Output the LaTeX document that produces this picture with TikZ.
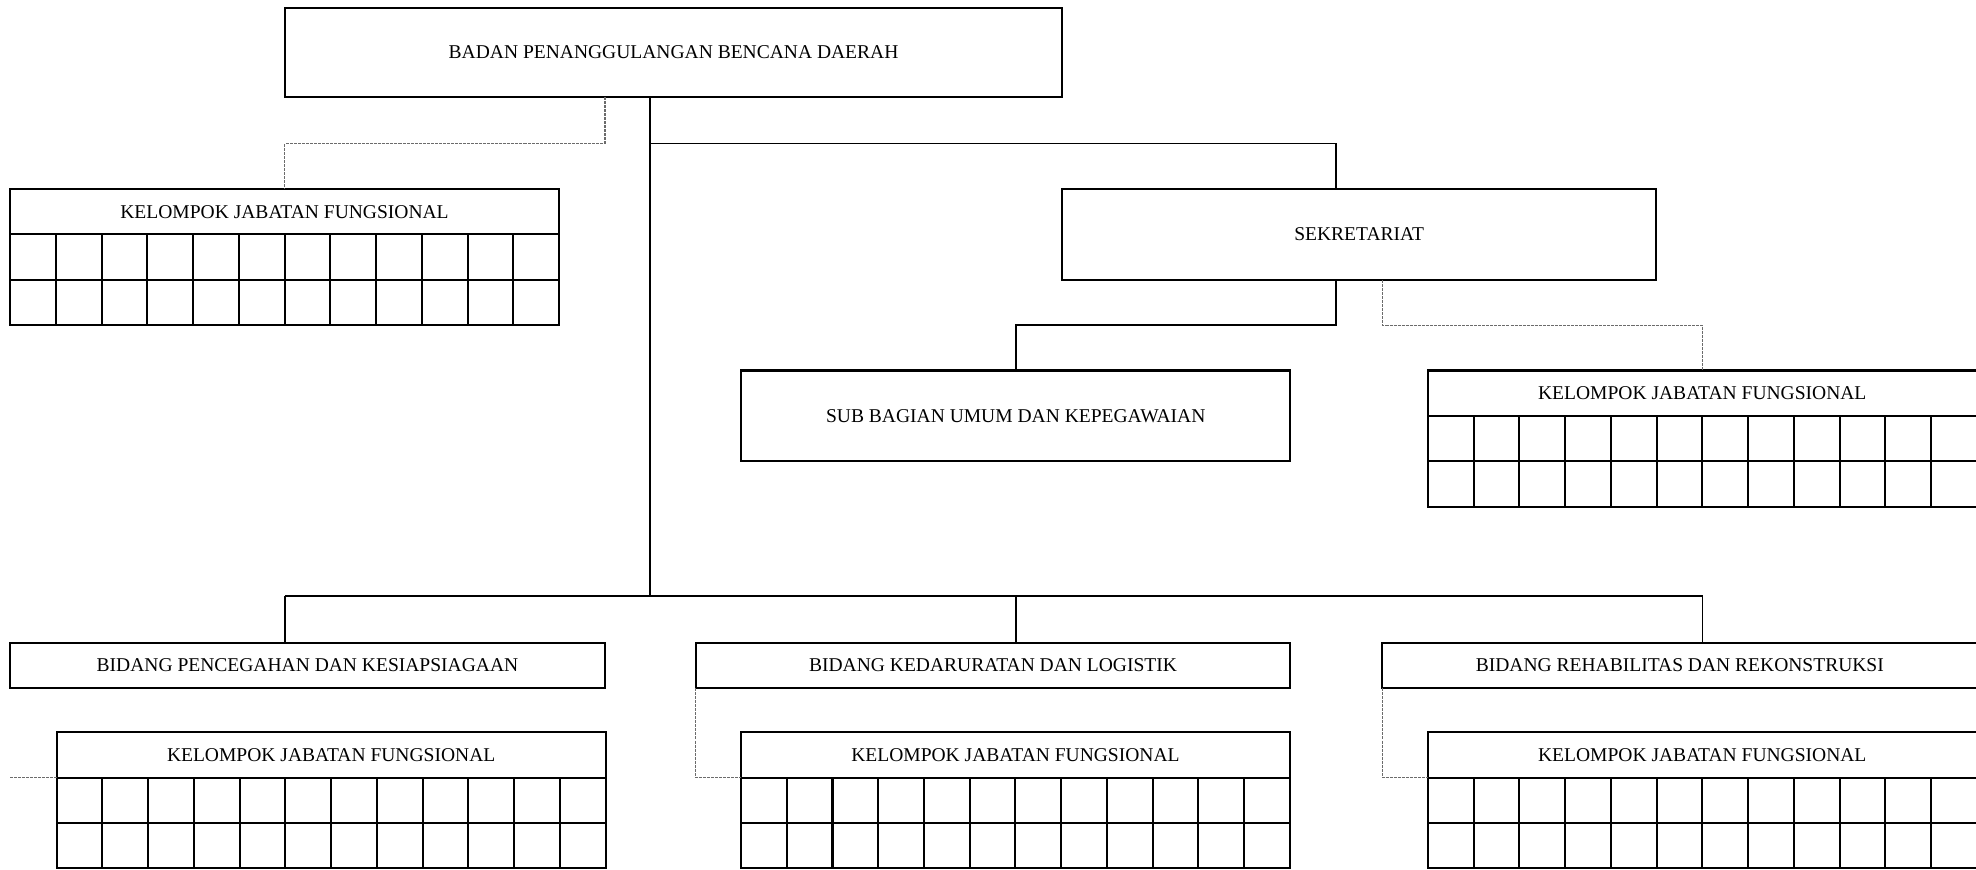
\documentclass[tikz,border=0pt]{standalone}
\usepackage{fontspec}
\setmainfont{Liberation Serif}
\begin{document}
\begin{tikzpicture}[x=1pt,y=-1pt,
  unit/.style={draw, line width=1.6pt, rectangle, inner sep=0pt, outer sep=0pt, anchor=north west,
    font=\fontsize{15.5}{18}\selectfont},
  link/.style={line width=1.3pt},
  staff/.style={draw=black!58, line width=1pt, dash pattern=on 2.4pt off 0.8pt},
  tableline/.style={line width=1.6pt}]
\useasboundingbox (0,-1) rectangle (1568,689);

% functional staff group: titled header with a 12 x 2 table of empty cells below
\newcommand\jabfung[3]{%
  \node[unit, minimum width=435.6pt, minimum height=36pt] (#1) at (#2,#3) {KELOMPOK JABATAN FUNGSIONAL};
  \draw[tableline] (#1.south west) rectangle ++(435.6,72);
  \draw[tableline] (#1.south west) ++(0,36) -- ++(435.6,0);
  \foreach \i in {1,...,11} \draw[tableline] (#1.south west) ++(\i*36.3,0) -- ++(0,72);
}

% units
\node[unit, minimum width=617pt, minimum height=71pt] (bpbd) at (226,5) {BADAN PENANGGULANGAN BENCANA DAERAH};
\node[unit, minimum width=471pt, minimum height=72pt] (sekretariat) at (843,149) {SEKRETARIAT};
\node[unit, minimum width=436pt, minimum height=72pt] (subbagian) at (588,293) {SUB BAGIAN UMUM DAN KEPEGAWAIAN};
\node[unit, minimum width=472pt, minimum height=36pt] (pencegahan) at (8,509) {BIDANG PENCEGAHAN DAN KESIAPSIAGAAN};
\node[unit, minimum width=472pt, minimum height=36pt] (kedaruratan) at (552,509) {BIDANG KEDARURATAN DAN LOGISTIK};
\node[unit, minimum width=472pt, minimum height=36pt] (rehab) at (1097,509) {BIDANG REHABILITAS DAN REKONSTRUKSI};

\jabfung{kjfa}{8}{149}
\jabfung{kjfb}{1133}{293}
\jabfung{kjfc}{45}{580}
\jabfung{kjfd}{588}{580}
\jabfung{kjfe}{1133}{580}

% bend points of the command lines
\coordinate (trunk) at (516,472);
\coordinate (busL) at (226,472);
\coordinate (busM) at (806,472);
\coordinate (busR) at (1351,472);
\coordinate (sekbend) at (1060,113);
\coordinate (subbend) at (806,257);

\draw[link] (bpbd.south -| trunk) -- (trunk);
\draw[link] (trunk |- sekbend) -- (sekbend) -- (sekbend |- sekretariat.north);
\draw[link] (sekbend |- sekretariat.south) |- (subbend) -- (subbagian.north);
\draw[link] (busL) -- (busR);
\draw[link] (busL) -- (busL |- pencegahan.north);
\draw[link] (busM) -- (busM |- kedaruratan.north);
\draw[link] (busR) -- (busR |- rehab.north);

% coordination lines to the functional groups
\coordinate (fa) at (480,113);
\coordinate (fb) at (226,113);
\coordinate (fc) at (1097,257);
\coordinate (fd) at (1351,257);
\coordinate (fe) at (8,616);

\draw[staff] (bpbd.south -| fa) -- (fa) -- (fb) -- (fb |- kjfa.north);
\draw[staff] (sekretariat.south -| fc) -- (fc) -- (fd) -- (fd |- kjfb.north);
\draw[staff] (fe) -- (kjfc.south west);
\draw[staff] (kedaruratan.south west) |- (kjfd.south west);
\draw[staff] (rehab.south west) |- (kjfe.south west);
\end{tikzpicture}
\end{document}
